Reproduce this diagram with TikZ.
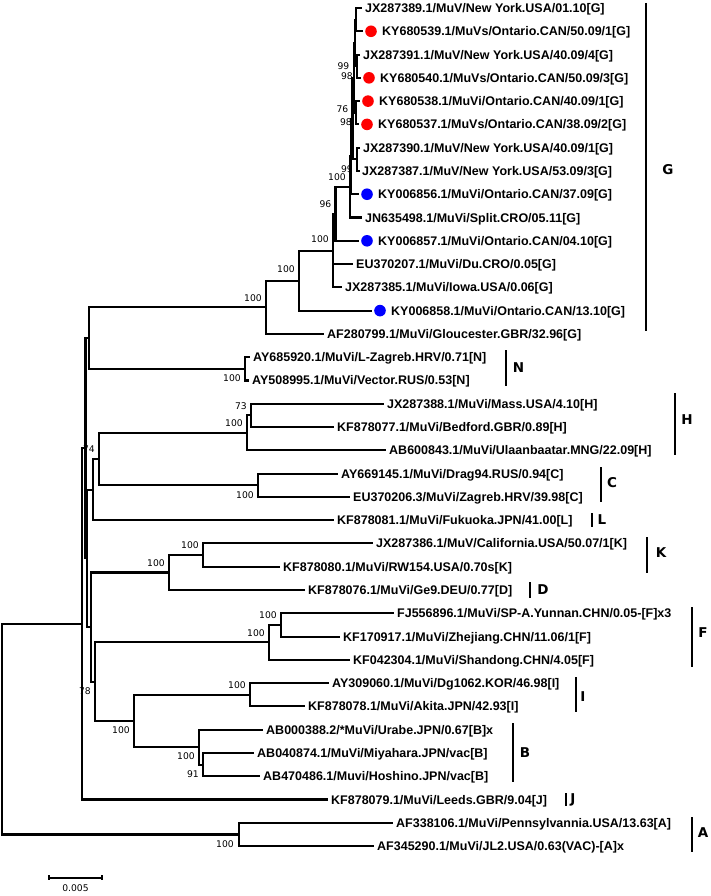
\documentclass[tikz,border=0pt]{standalone}
\usepackage{fontspec}
\setmainfont{Liberation Sans}
\newfontfamily\bsfont{DejaVu Sans}
\definecolor{dotred}{RGB}{255,0,0}
\definecolor{dotblue}{RGB}{0,0,255}
\begin{document}
\begin{tikzpicture}[x=1pt,y=-1pt,
  br/.style={line width=2.1pt, line cap=rect, line join=miter},
  cbar/.style={line width=2.1pt},
  leaf/.style={anchor=west, inner sep=0pt, text height=9pt, text depth=0pt, font=\bfseries\fontsize{12.5}{14}\selectfont},
  bs/.style={anchor=east, inner sep=0pt, text height=6.7pt, text depth=0pt, font=\bsfont\fontsize{9.2}{10}\selectfont},
  clade/.style={inner sep=0pt, text height=9.5pt, text depth=0pt, font=\bsfont\bfseries\fontsize{13.5}{15}\selectfont},
  rdot/.style={circle, fill=dotred, inner sep=0pt, minimum size=11.6pt},
  bdot/.style={circle, fill=dotblue, inner sep=0pt, minimum size=11.6pt}]
\useasboundingbox (0,0) rectangle (710,896);
% ---------- internal nodes ----------
\coordinate (root) at (2,729.15);
\coordinate (n82) at (82,623.86);
\coordinate (nA) at (239,834.44);
\coordinate (n86) at (85.5,448.2);
\coordinate (nGN) at (89,338.06);
\coordinate (nR) at (87.2,558.35);
\coordinate (g0) at (266,307.28);
\coordinate (g1) at (299,280.63);
\coordinate (g2) at (333,250.62);
\coordinate (g3) at (335.5,213.88);
\coordinate (g4) at (350,186.97);
\coordinate (gX) at (351.3,156.41);
\coordinate (g5) at (352.5,118.58);
\coordinate (q2) at (354,77.84);
\coordinate (q1) at (355,42.92);
\coordinate (t1) at (356,19.64);
\coordinate (t2) at (357,66.2);
\coordinate (t3) at (356,112.76);
\coordinate (pp) at (357,159.32);
\coordinate (nN) at (245,368.84);
\coordinate (hcl) at (93,489.6);
\coordinate (hc) at (99,459.05);
\coordinate (nH) at (247,432.86);
\coordinate (hin) at (251,415.4);
\coordinate (nC) at (258,485.24);
\coordinate (nS) at (91,627.1);
\coordinate (kd) at (169,572.54);
\coordinate (nK) at (203,555.08);
\coordinate (nT) at (95,681.67);
\coordinate (nF) at (269,642.38);
\coordinate (fin) at (281,624.92);
\coordinate (ib) at (134,720.95);
\coordinate (nI) at (250,694.76);
\coordinate (nB) at (199,747.14);
\coordinate (bin) at (203,764.6);
% ---------- leaf tips ----------
\coordinate (l1) at (361,8);
\coordinate (l2) at (362,31.28);
\coordinate (l3) at (359,54.56);
\coordinate (l4) at (360,77.84);
\coordinate (l5) at (359,101.12);
\coordinate (l6) at (358,124.4);
\coordinate (l7) at (359,147.68);
\coordinate (l8) at (359,170.96);
\coordinate (l9) at (358,194.24);
\coordinate (l10) at (361,217.52);
\coordinate (l11) at (358,240.8);
\coordinate (l12) at (352,264.08);
\coordinate (l13) at (341,287.36);
\coordinate (l14) at (371,310.64);
\coordinate (l15) at (323,333.92);
\coordinate (l16) at (249,357.2);
\coordinate (l17) at (248,380.48);
\coordinate (l18) at (383,403.76);
\coordinate (l19) at (333,427.04);
\coordinate (l20) at (385,450.32);
\coordinate (l21) at (337,473.6);
\coordinate (l22) at (349,496.88);
\coordinate (l23) at (333,520.16);
\coordinate (l24) at (372,543.44);
\coordinate (l25) at (279,566.72);
\coordinate (l26) at (304,590);
\coordinate (l27) at (393,613.28);
\coordinate (l28) at (339,636.56);
\coordinate (l29) at (349,659.84);
\coordinate (l30) at (328,683.12);
\coordinate (l31) at (304,706.4);
\coordinate (l32) at (262,729.68);
\coordinate (l33) at (253,752.96);
\coordinate (l34) at (259,776.24);
\coordinate (l35) at (327,799.52);
\coordinate (l36) at (392,822.8);
\coordinate (l37) at (373,846.08);
% ---------- branches ----------
\foreach \p/\c in {root/n82, root/nA, n82/n86, n82/l35, n86/nGN, n86/nR,
  nGN/g0, nGN/nN, g0/g1, g0/l15, g1/g2, g1/l14, g2/g3, g2/l12, g2/l13,
  g3/g4, g3/l11, g4/gX, g4/l10, gX/g5, gX/l9, g5/q2, g5/pp, q2/q1, q2/t3,
  q1/t1, q1/t2, t1/l1, t1/l2, t2/l3, t2/l4, t3/l5, t3/l6, pp/l7, pp/l8,
  nN/l16, nN/l17, nR/hcl, nR/nS, hcl/hc, hcl/l23, hc/nH, hc/nC,
  nH/hin, nH/l20, hin/l18, hin/l19, nC/l21, nC/l22,
  nS/kd, nS/nT, kd/nK, kd/l26, nK/l24, nK/l25,
  nT/nF, nT/ib, nF/fin, nF/l29, fin/l27, fin/l28,
  ib/nI, ib/nB, nI/l30, nI/l31, nB/l32, nB/bin, bin/l33, bin/l34,
  nA/l36, nA/l37}
  \draw[br] (\p) |- (\c);
% ---------- dots ----------
\node[rdot] (d2) at (371,31.28) {};
\node[rdot] (d4) at (369,77.84) {};
\node[rdot] (d5) at (368,101.12) {};
\node[rdot] (d6) at (367,124.4) {};
\node[bdot] (d9) at (367,194.24) {};
\node[bdot] (d11) at (367,240.8) {};
\node[bdot] (d14) at (380,310.64) {};
% ---------- leaf labels ----------
\node[leaf] (L1) at (365,8) {JX287389.1/MuV/New York.USA/01.10[G]};
\node[leaf] (L2) at (382,31.28) {KY680539.1/MuVs/Ontario.CAN/50.09/1[G]};
\node[leaf] (L3) at (363,54.56) {JX287391.1/MuV/New York.USA/40.09/4[G]};
\node[leaf] (L4) at (380,77.84) {KY680540.1/MuVs/Ontario.CAN/50.09/3[G]};
\node[leaf] (L5) at (379,101.12) {KY680538.1/MuVi/Ontario.CAN/40.09/1[G]};
\node[leaf] (L6) at (378,124.4) {KY680537.1/MuVs/Ontario.CAN/38.09/2[G]};
\node[leaf] (L7) at (363,147.68) {JX287390.1/MuV/New York.USA/40.09/1[G]};
\node[leaf] (L8) at (362,170.96) {JX287387.1/MuV/New York.USA/53.09/3[G]};
\node[leaf] (L9) at (378,194.24) {KY006856.1/MuVi/Ontario.CAN/37.09[G]};
\node[leaf] (L10) at (365,217.52) {JN635498.1/MuVi/Split.CRO/05.11[G]};
\node[leaf] (L11) at (378,240.8) {KY006857.1/MuVi/Ontario.CAN/04.10[G]};
\node[leaf] (L12) at (356,264.08) {EU370207.1/MuVi/Du.CRO/0.05[G]};
\node[leaf] (L13) at (345,287.36) {JX287385.1/MuVi/Iowa.USA/0.06[G]};
\node[leaf] (L14) at (391,310.64) {KY006858.1/MuVi/Ontario.CAN/13.10[G]};
\node[leaf] (L15) at (327,333.92) {AF280799.1/MuVi/Gloucester.GBR/32.96[G]};
\node[leaf] (L16) at (253,357.2) {AY685920.1/MuVi/L-Zagreb.HRV/0.71[N]};
\node[leaf] (L17) at (252,380.48) {AY508995.1/MuVi/Vector.RUS/0.53[N]};
\node[leaf] (L18) at (387,403.76) {JX287388.1/MuVi/Mass.USA/4.10[H]};
\node[leaf] (L19) at (337,427.04) {KF878077.1/MuVi/Bedford.GBR/0.89[H]};
\node[leaf] (L20) at (389,450.32) {AB600843.1/MuVi/Ulaanbaatar.MNG/22.09[H]};
\node[leaf] (L21) at (341,473.6) {AY669145.1/MuVi/Drag94.RUS/0.94[C]};
\node[leaf] (L22) at (353,496.88) {EU370206.3/MuVi/Zagreb.HRV/39.98[C]};
\node[leaf] (L23) at (337,520.16) {KF878081.1/MuVi/Fukuoka.JPN/41.00[L]};
\node[leaf] (L24) at (376,543.44) {JX287386.1/MuV/California.USA/50.07/1[K]};
\node[leaf] (L25) at (283,566.72) {KF878080.1/MuVi/RW154.USA/0.70s[K]};
\node[leaf] (L26) at (308,590) {KF878076.1/MuVi/Ge9.DEU/0.77[D]};
\node[leaf] (L27) at (397,613.28) {FJ556896.1/MuVi/SP-A.Yunnan.CHN/0.05-[F]x3};
\node[leaf] (L28) at (343,636.56) {KF170917.1/MuVi/Zhejiang.CHN/11.06/1[F]};
\node[leaf] (L29) at (353,659.84) {KF042304.1/MuVi/Shandong.CHN/4.05[F]};
\node[leaf] (L30) at (332,683.12) {AY309060.1/MuVi/Dg1062.KOR/46.98[I]};
\node[leaf] (L31) at (308,706.4) {KF878078.1/MuVi/Akita.JPN/42.93[I]};
\node[leaf] (L32) at (266,729.68) {AB000388.2/*MuVi/Urabe.JPN/0.67[B]x};
\node[leaf] (L33) at (257,752.96) {AB040874.1/MuVi/Miyahara.JPN/vac[B]};
\node[leaf] (L34) at (263,776.24) {AB470486.1/Muvi/Hoshino.JPN/vac[B]};
\node[leaf] (L35) at (331,799.52) {KF878079.1/MuVi/Leeds.GBR/9.04[J]};
\node[leaf] (L36) at (396,822.8) {AF338106.1/MuVi/Pennsylvannia.USA/13.63[A]};
\node[leaf] (L37) at (377,846.08) {AF345290.1/MuVi/JL2.USA/0.63(VAC)-[A]x};
% ---------- bootstrap values ----------
\node[bs] (b1) at (349.5,66.3) {99};
\node[bs] (b2) at (353,76.2) {98};
\node[bs] (b3) at (348.5,109.1) {76};
\node[bs] (b4) at (352,122.3) {98};
\node[bs] (b5) at (353,168.8) {99};
\node[bs] (b6) at (346,177.5) {100};
\node[bs] (b7) at (331.5,204.4) {96};
\node[bs] (b8) at (329,239) {100};
\node[bs] (b9) at (295,269) {100};
\node[bs] (b10) at (262,297.8) {100};
\node[bs] (b11) at (241,378.3) {100};
\node[bs] (b12) at (247,405.9) {73};
\node[bs] (b13) at (243,423.4) {100};
\node[bs] (b14) at (95,449.6) {74};
\node[bs] (b15) at (254,494.7) {100};
\node[bs] (b16) at (199,545.6) {100};
\node[bs] (b17) at (165,563) {100};
\node[bs] (b18) at (277,615.4) {100};
\node[bs] (b19) at (265,632.9) {100};
\node[bs] (b20) at (91,691.2) {78};
\node[bs] (b21) at (246,685.3) {100};
\node[bs] (b22) at (130,730.5) {100};
\node[bs] (b23) at (195,756.6) {100};
\node[bs] (b24) at (199,774.1) {91};
\node[bs] (b25) at (234,843.9) {100};
% ---------- clade bars and letters ----------
\draw[cbar] (646,3) -- (646,331);
\draw[cbar] (506,350) -- (506,386);
\draw[cbar] (675,393) -- (675,455);
\draw[cbar] (601,467) -- (601,502);
\draw[cbar] (592,513) -- (592,527);
\draw[cbar] (647,537) -- (647,573);
\draw[cbar] (530,582) -- (530,598);
\draw[cbar] (692,607) -- (692,667);
\draw[cbar] (576,677) -- (576,712);
\draw[cbar] (513,723) -- (513,782);
\draw[cbar] (566,793) -- (566,806);
\draw[cbar] (692,817) -- (692,852);
\node[clade] (cG) at (668,170) {G};
\node[clade] (cN) at (518.5,368) {N};
\node[clade] (cH) at (687,420) {H};
\node[clade] (cC) at (612,483) {C};
\node[clade] (cL) at (602,520) {L};
\node[clade] (cK) at (661,553) {K};
\node[clade] (cD) at (543,590) {D};
\node[clade] (cF) at (703,633) {F};
\node[clade] (cI) at (583,697) {I};
\node[clade] (cB) at (525,753) {B};
\node[clade] (cJ) at (573,799) {J};
\node[clade] (cA) at (703,833) {A};
% ---------- scale bar ----------
\coordinate (sb1) at (49,878);
\coordinate (sb2) at (102,878);
\draw[line width=2.1pt] (sb1) -- (sb2);
\draw[line width=1.6pt] ([yshift=3pt]sb1) -- ([yshift=-2pt]sb1);
\draw[line width=1.6pt] ([yshift=3pt]sb2) -- ([yshift=-2pt]sb2);
\node[bs, anchor=center] (sblab) at (75.5,888.5) {0.005};
\end{tikzpicture}
\end{document}
